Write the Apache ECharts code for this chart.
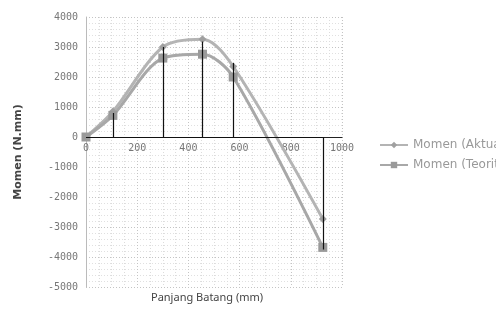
<!DOCTYPE html>
<html>
<head>
<meta charset="utf-8">
<script src="https://cdn.jsdelivr.net/npm/echarts@6/dist/echarts.min.js"></script>
<style>
  html, body { margin: 0; padding: 0; background: #fff; }
  #chart { width: 496px; height: 309px; }
</style>
</head>
<body>
<div id="chart"></div>
<script>
// posisi titik (mm)
const posisi = [0, 105, 300, 455, 575, 925];
const momenAktual = [0, 850, 3000, 3260, 2350, -2730];
const momenTeoritis = [0, 720, 2630, 2760, 2000, -3680];
// garis hitam (diagram batang)
const stemX = [105, 300, 455, 575, 925];
const stemY = [800, 3000, 3180, 2470, -3750];
const yTicks = { min: -5000, max: 4000, interval: 1000 };
const xTicks = { min: 0, max: 1000, interval: 200 };

const gridTop = 17, gridBottom = 22, chartH = 309;
// sumbu x dipindah ke garis nol
const plotH = chartH - gridTop - gridBottom;
const zeroOffset = -plotH * (0 - yTicks.min) / (yTicks.max - yTicks.min);

const chart = echarts.init(document.getElementById('chart'), null, { renderer: 'canvas' });

const stemLines = stemX.map((x, i) => [{ coord: [x, 0] }, { coord: [x, stemY[i]] }]);
stemLines.push([{ coord: [0, 0] }, { coord: [stemX[stemX.length - 1], 0] }]);

const gridDots = { color: '#c4c4c4', type: [1, 2], width: 1 };
const plain = v => String(v);

chart.setOption({
  animation: false,
  backgroundColor: '#fff',
  grid: { left: 86, right: 154, top: gridTop, bottom: gridBottom },
  title: {
    text: 'Panjang Batang (mm)',
    left: 146, top: 287,
    textStyle: { fontFamily: 'Noto Sans', fontSize: 11, fontWeight: 'normal', color: '#444' }
  },
  legend: {
    orient: 'vertical',
    left: 374, top: 134,
    itemGap: 8, itemWidth: 28, itemHeight: 8,
    textStyle: { fontFamily: 'DejaVu Sans', fontSize: 12, color: '#999' },
    data: ['Momen (Aktual)', 'Momen (Teoritis)']
  },
  xAxis: {
    type: 'value',
    position: 'bottom',
    offset: zeroOffset,
    min: xTicks.min, max: xTicks.max, interval: xTicks.interval,
    axisLine: { show: true, onZero: false, lineStyle: { color: '#222' } },
    axisTick: { show: false },
    axisLabel: { fontFamily: 'DejaVu Sans Mono', fontSize: 10, color: '#777', margin: 6, formatter: plain },
    splitLine: { show: true, lineStyle: gridDots },
    minorTick: { show: false, splitNumber: 4 },
    minorSplitLine: { show: true, lineStyle: { color: '#dcdcdc', type: [1, 2] } }
  },
  yAxis: {
    type: 'value',
    min: yTicks.min, max: yTicks.max, interval: yTicks.interval,
    name: 'Momen (N.mm)',
    nameLocation: 'middle', nameGap: 62,
    nameTextStyle: { fontFamily: 'DejaVu Sans', fontSize: 11, fontWeight: 'bold', color: '#444' },
    axisLine: { show: true, onZero: false, lineStyle: { color: '#bbb' } },
    axisTick: { show: false },
    axisLabel: { fontFamily: 'DejaVu Sans Mono', fontSize: 10, color: '#777', margin: 8, formatter: plain },
    splitLine: { show: true, lineStyle: gridDots },
    minorTick: { show: false, splitNumber: 5 },
    minorSplitLine: { show: true, lineStyle: { color: '#e0e0e0', type: [1, 2] } }
  },
  series: [
    {
      name: 'Momen (Aktual)',
      type: 'line',
      smooth: 0.3,
      data: posisi.map((x, i) => [x, momenAktual[i]]),
      symbol: 'diamond', symbolSize: 8,
      lineStyle: { color: '#b4b4b4', width: 3 },
      itemStyle: { color: '#a0a0a0' },
      z: 3,
      markLine: {
        silent: true, symbol: 'none', label: { show: false },
        lineStyle: { color: '#111', width: 1.2, type: 'solid' },
        data: stemLines
      }
    },
    {
      name: 'Momen (Teoritis)',
      type: 'line',
      smooth: 0.3,
      data: posisi.map((x, i) => [x, momenTeoritis[i]]),
      symbol: 'rect', symbolSize: 9,
      lineStyle: { color: '#a8a8a8', width: 3 },
      itemStyle: { color: '#9a9a9a' },
      z: 3
    }
  ]
});

window.addEventListener('resize', () => chart.resize());
</script>
</body>
</html>
